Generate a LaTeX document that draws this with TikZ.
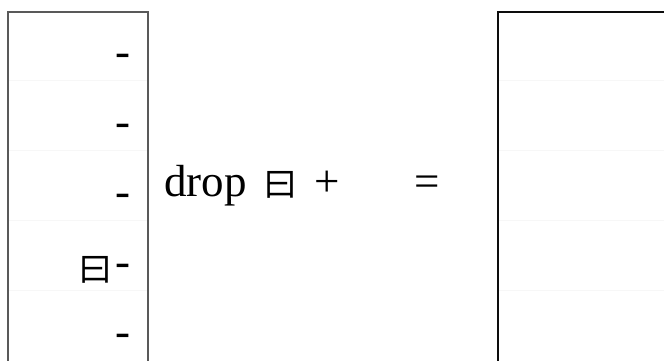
\documentclass[tikz,border=0pt]{standalone}
\usepackage{fontspec}
\setmainfont{Liberation Serif}
\newfontfamily\cjk{Noto Sans CJK SC}
\usepackage{xcolor}
\usepackage{tikz}
\usetikzlibrary{positioning}
\definecolor{FrameColor}{rgb}{0.35,0.35,0.35}
\definecolor{EdgeColor}{rgb}{0.05,0.05,0.05}
\definecolor{RuleColor}{rgb}{0.97,0.97,0.97}
\tikzset{
    panel/.style={
        draw=FrameColor,
        line width=1.2pt
    },
    outpanel/.style={panel, draw=EdgeColor, line width=1.6pt},
    rule/.style={draw=RuleColor, line width=0.8pt},
    txt/.style={
        inner sep=0pt,
        font=\fontsize{45}{54}\selectfont
    },
    glyph/.style={
        inner sep=0pt,
        font=\fontsize{34}{40}\cjk
    }
}

\begin{document}
\begin{tikzpicture}[x=1pt, y=-1pt]

\useasboundingbox (0,0) rectangle (664,360);
\clip (0,0) rectangle (664,360);

% Left panel
\draw[rule] (8,80) -- (148,80);
\draw[rule] (8,150) -- (148,150);
\draw[rule] (8,220) -- (148,220);
\draw[rule] (8,290) -- (148,290);
\draw[panel] (8,12) rectangle (148,380);

\node[txt, anchor=base east] (n_row1) at (131,66) {-};
\node[txt, anchor=base east] (n_row2) at (131,136) {-};
\node[txt, anchor=base east] (n_row3) at (131,206) {-};
\node[txt, anchor=base east] (n_row4) at (131,276) {-};
\node[glyph, anchor=base east, xshift=-3pt, yshift=-5pt] (n_mark) at (n_row4.base west) {曰};
\node[txt, anchor=base east] (n_row5) at (131,346) {-};

% Middle line
\node[txt, anchor=base west] (n_drop) at (164,196) {drop};
\node[glyph, base right=16pt of n_drop] (n_yue) {曰};
\node[txt, base right=17pt of n_yue] (n_plus) {+};
\node[txt, base right=74pt of n_plus] (n_eq) {=};

% Right panel
\draw[rule] (498,80) -- (680,80);
\draw[rule] (498,150) -- (680,150);
\draw[rule] (498,220) -- (680,220);
\draw[rule] (498,290) -- (680,290);
\draw[outpanel] (498,12) rectangle (680,380);

\end{tikzpicture}
\end{document}
